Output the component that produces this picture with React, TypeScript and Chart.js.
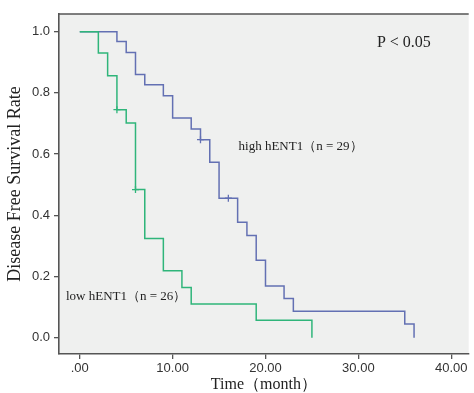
import React, { useEffect, useRef } from 'react';
import { Chart, registerables } from 'chart.js';

Chart.register(...registerables);

// Kaplan-Meier step data (time in months, survival rate after the event)
const highTimes = [0, 4, 5, 6, 7, 9, 10, 12, 13, 14, 15, 17, 18, 19, 20, 22, 23, 35, 36];
const highSurv = [1.0, 0.968, 0.932, 0.86, 0.827, 0.791, 0.718, 0.682, 0.647, 0.573, 0.456, 0.377, 0.334, 0.253, 0.169, 0.128, 0.086, 0.045, 0.0];
const highCensorTimes = [13, 16];
const highCensorSurv = [0.647, 0.456];

const lowTimes = [0, 2, 3, 4, 5, 6, 7, 9, 11, 12, 19, 25];
const lowSurv = [1.0, 0.93, 0.856, 0.745, 0.702, 0.484, 0.324, 0.219, 0.164, 0.11, 0.057, 0.0];
const lowCensorTimes = [4, 6];
const lowCensorSurv = [0.745, 0.484];

const xTicks = [0, 10, 20, 30, 40];
const xTickLabels = ['.00', '10.00', '20.00', '30.00', '40.00'];
const yTicks = [0, 0.2, 0.4, 0.6, 0.8, 1.0];
const yTickLabels = ['0.0', '0.2', '0.4', '0.6', '0.8', '1.0'];

const xTitle = 'Time（month）';
const yTitle = 'Disease Free Survival Rate';

const notes = [
  { text: 'P < 0.05', x: 34.9, y: 0.963, align: 'center', size: 16 },
  { text: 'high hENT1（n = 29）', x: 17.1, y: 0.625, align: 'left', size: 13 },
  { text: 'low hENT1（n = 26）', x: -1.49, y: 0.135, align: 'left', size: 13 },
];

const BLUE = '#6370b3';
const GREEN = '#2fb57a';
const AXIS = '#555555';
const SERIF = '"Liberation Serif", "Times New Roman", serif';
const SANS = '"Liberation Sans", Arial, sans-serif';

const toPts = (xs: number[], ys: number[]) => xs.map((x, i) => ({ x, y: ys[i] }));

const framePlugin = {
  id: 'frame',
  beforeDraw(chart: any) {
    const { ctx, chartArea: a } = chart;
    ctx.save();
    ctx.fillStyle = '#ffffff';
    ctx.fillRect(0, 0, chart.width, chart.height);
    ctx.fillStyle = '#eff0ef';
    ctx.fillRect(a.left, a.top, a.right - a.left, a.bottom - a.top);
    ctx.restore();
  },
  afterDraw(chart: any) {
    const { ctx, chartArea: a, scales } = chart;
    ctx.save();
    ctx.strokeStyle = AXIS;
    ctx.lineWidth = 1.6;
    ctx.beginPath();
    ctx.moveTo(a.left, a.top);
    ctx.lineTo(a.right, a.top);
    ctx.stroke();
    ctx.fillStyle = '#222222';
    ctx.textBaseline = 'middle';
    for (const n of notes) {
      ctx.font = `${n.size}px ${SERIF}`;
      ctx.textAlign = n.align;
      ctx.fillText(n.text, scales.x.getPixelForValue(n.x), scales.y.getPixelForValue(n.y));
    }
    ctx.restore();
  },
};

export default function App() {
  const ref = useRef<HTMLCanvasElement | null>(null);

  useEffect(() => {
    if (!ref.current) return;
    const lineDs = (label: string, xs: number[], ys: number[], color: string) => ({
      label,
      data: toPts(xs, ys),
      borderColor: color,
      backgroundColor: color,
      borderWidth: 1.5,
      stepped: true,
      pointRadius: 0,
      fill: false,
    });
    const censorDs = (label: string, xs: number[], ys: number[], color: string) => ({
      label,
      data: toPts(xs, ys),
      borderColor: color,
      backgroundColor: color,
      showLine: false,
      pointStyle: 'cross',
      pointRadius: 3.5,
      pointBorderWidth: 1.3,
    });
    const chart = new Chart(ref.current, {
      type: 'line',
      data: {
        datasets: [
          lineDs('low hENT1', lowTimes, lowSurv, GREEN),
          censorDs('low censored', lowCensorTimes, lowCensorSurv, GREEN),
          lineDs('high hENT1', highTimes, highSurv, BLUE),
          censorDs('high censored', highCensorTimes, highCensorSurv, BLUE),
        ] as any,
      },
      options: {
        animation: false,
        responsive: false,
        maintainAspectRatio: false,
        layout: { padding: { top: 14, right: 1, left: 0, bottom: 0 } },
        plugins: { legend: { display: false }, tooltip: { enabled: false } },
        scales: {
          x: {
            type: 'linear',
            min: -2.238,
            max: 41.885,
            afterFit: (s: any) => { s.height = 39; },
            afterBuildTicks: (s: any) => { s.ticks = xTicks.map((v) => ({ value: v })); },
            ticks: {
              autoSkip: false,
              maxRotation: 0,
              padding: 2,
              color: '#333333',
              font: { family: SANS, size: 13 },
              callback: (v: any) => xTickLabels[xTicks.indexOf(Number(v))],
            },
            grid: { drawOnChartArea: false, drawTicks: true, tickLength: 5, color: AXIS, lineWidth: 1.3 },
            border: { display: true, color: AXIS, width: 1.6 },
            title: {
              display: true,
              text: xTitle,
              color: '#222222',
              font: { family: SERIF, size: 16, lineHeight: 1 },
              padding: { top: 0, bottom: 0 },
            },
          },
          y: {
            type: 'linear',
            min: -0.0533,
            max: 1.0578,
            afterFit: (s: any) => { s.width = 59; },
            afterBuildTicks: (s: any) => { s.ticks = yTicks.map((v) => ({ value: v })); },
            ticks: {
              autoSkip: false,
              padding: 4,
              color: '#333333',
              font: { family: SANS, size: 13 },
              callback: (v: any) => yTickLabels[yTicks.findIndex((t) => Math.abs(t - Number(v)) < 1e-6)],
            },
            grid: { drawOnChartArea: false, drawTicks: true, tickLength: 5, color: AXIS, lineWidth: 1.3 },
            border: { display: true, color: AXIS, width: 1.6 },
            title: {
              display: true,
              text: yTitle,
              color: '#222222',
              font: { family: SERIF, size: 18, lineHeight: 1.1 },
              padding: { top: 5, bottom: 4 },
            },
          },
        },
      } as any,
      plugins: [framePlugin as any],
    });
    return () => chart.destroy();
  }, []);

  return (
    <div style={{ position: 'absolute', left: 0, top: 0, width: 474, height: 393 }}>
      <canvas ref={ref} width={474} height={393} style={{ width: 474, height: 393, display: 'block' }} />
    </div>
  );
}
